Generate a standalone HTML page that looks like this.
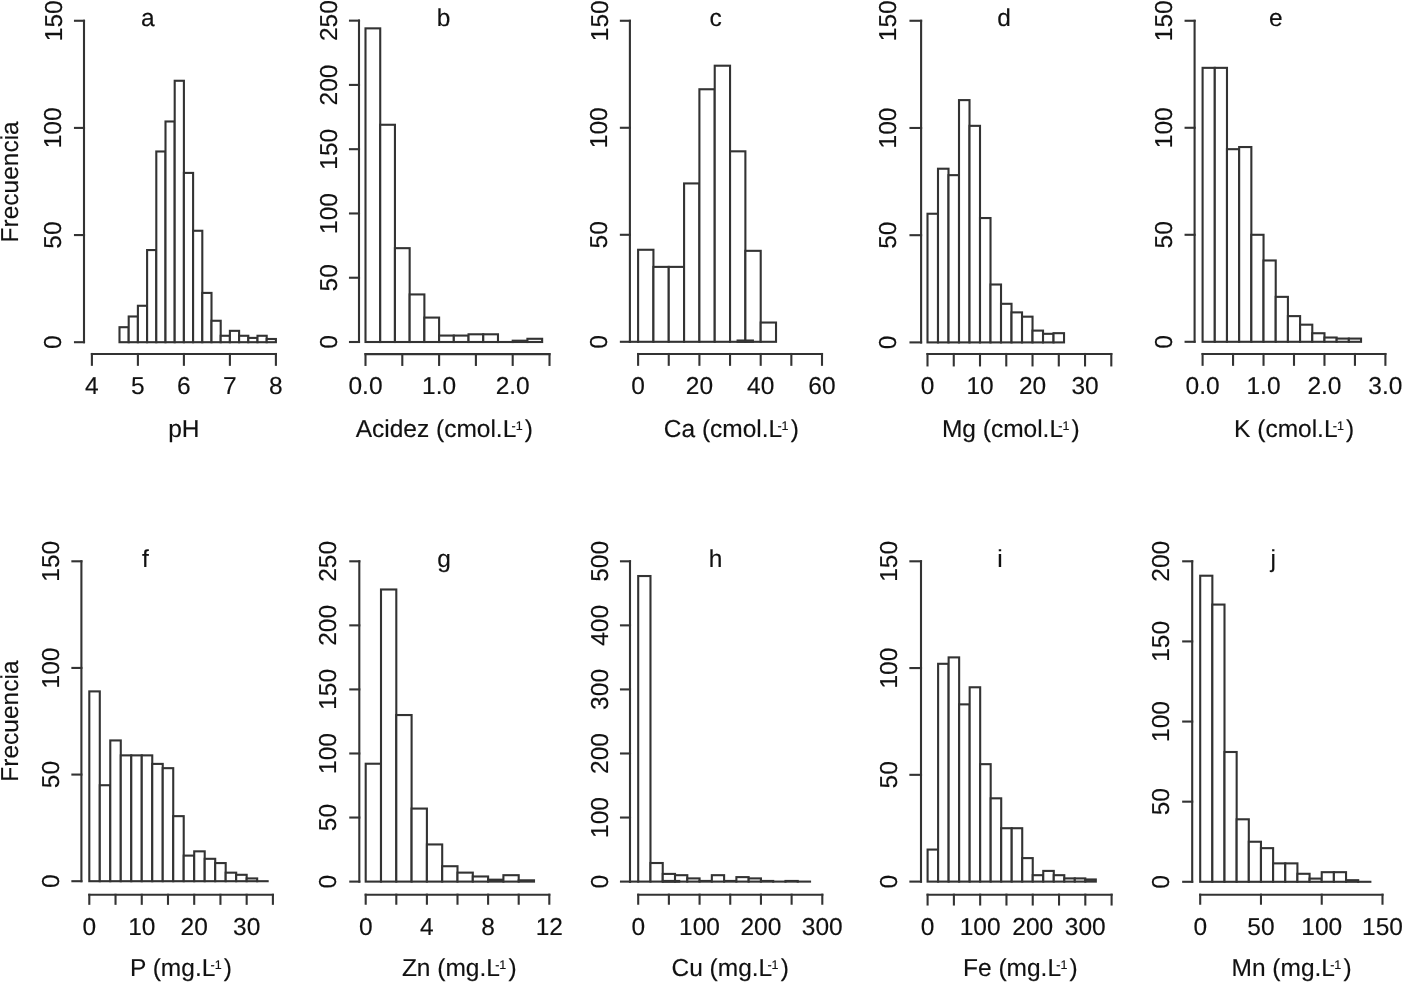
<!DOCTYPE html>
<html><head><meta charset="utf-8"><style>
html,body{margin:0;padding:0;background:#fff;width:1402px;height:982px;overflow:hidden}
svg{display:block;filter:grayscale(1)}
text{font-family:"Liberation Sans",sans-serif;fill:#111;stroke:#111;stroke-width:0.15px;-webkit-font-smoothing:antialiased;text-rendering:geometricPrecision}
line{stroke:#333;stroke-width:2.1;stroke-linecap:square}
.bars rect, rect.bars{fill:#fff;stroke:#333;stroke-width:2.1;stroke-linejoin:miter}
</style></head><body>
<svg width="1402" height="982" viewBox="0 0 1402 982">
<rect width="1402" height="982" fill="#fff"/>
<g class="bars"><rect x="119.5" y="327.2" width="9.2" height="15"/><rect x="128.7" y="316.49" width="9.2" height="25.71"/><rect x="137.9" y="305.77" width="9.2" height="36.43"/><rect x="147.1" y="250.06" width="9.2" height="92.14"/><rect x="156.3" y="151.48" width="9.2" height="190.72"/><rect x="165.5" y="121.48" width="9.2" height="220.72"/><rect x="174.7" y="80.77" width="9.2" height="261.43"/><rect x="183.9" y="172.91" width="9.2" height="169.29"/><rect x="193.1" y="230.77" width="9.2" height="111.43"/><rect x="202.3" y="292.91" width="9.2" height="49.29"/><rect x="211.5" y="320.77" width="9.2" height="21.43"/><rect x="220.7" y="335.77" width="9.2" height="6.43"/><rect x="229.9" y="330.84" width="9.2" height="11.36"/><rect x="239.1" y="335.77" width="9.2" height="6.43"/><rect x="248.3" y="337.91" width="9.2" height="4.29"/><rect x="257.5" y="335.77" width="9.2" height="6.43"/><rect x="266.7" y="338.99" width="9.2" height="3.21"/></g>
<line x1="84" y1="342.2" x2="84" y2="20.77"/>
<line x1="75" y1="342.2" x2="84" y2="342.2"/>
<text x="61.5" y="342.2" font-size="24.5" text-anchor="middle" transform="rotate(-90 61.5 342.2)">0</text>
<line x1="75" y1="235.06" x2="84" y2="235.06"/>
<text x="61.5" y="235.06" font-size="24.5" text-anchor="middle" transform="rotate(-90 61.5 235.06)">50</text>
<line x1="75" y1="127.91" x2="84" y2="127.91"/>
<text x="61.5" y="127.91" font-size="24.5" text-anchor="middle" transform="rotate(-90 61.5 127.91)">100</text>
<line x1="75" y1="20.77" x2="84" y2="20.77"/>
<text x="61.5" y="20.77" font-size="24.5" text-anchor="middle" transform="rotate(-90 61.5 20.77)">150</text>
<line x1="91.9" y1="354" x2="275.9" y2="354"/>
<line x1="91.9" y1="354" x2="91.9" y2="364.8"/>
<text x="91.9" y="393.9" font-size="24.5" text-anchor="middle">4</text>
<line x1="137.9" y1="354" x2="137.9" y2="364.8"/>
<text x="137.9" y="393.9" font-size="24.5" text-anchor="middle">5</text>
<line x1="183.9" y1="354" x2="183.9" y2="364.8"/>
<text x="183.9" y="393.9" font-size="24.5" text-anchor="middle">6</text>
<line x1="229.9" y1="354" x2="229.9" y2="364.8"/>
<text x="229.9" y="393.9" font-size="24.5" text-anchor="middle">7</text>
<line x1="275.9" y1="354" x2="275.9" y2="364.8"/>
<text x="275.9" y="393.9" font-size="24.5" text-anchor="middle">8</text>
<text x="140.97" y="25.6" font-size="24.5">a</text>
<text x="168.14" y="437.2" font-size="24.5">pH</text>
<g class="bars"><rect x="365.5" y="28.36" width="14.72" height="313.64"/><rect x="380.22" y="124.77" width="14.72" height="217.23"/><rect x="394.94" y="248.17" width="14.72" height="93.83"/><rect x="409.66" y="294.44" width="14.72" height="47.56"/><rect x="424.38" y="317.58" width="14.72" height="24.42"/><rect x="439.1" y="335.57" width="14.72" height="6.43"/><rect x="453.82" y="335.57" width="14.72" height="6.43"/><rect x="468.54" y="334.29" width="14.72" height="7.71"/><rect x="483.26" y="334.29" width="14.72" height="7.71"/><line x1="497.98" y1="342" x2="512.7" y2="342"/><rect x="512.7" y="340.71" width="14.72" height="1.29"/><rect x="527.42" y="338.79" width="14.72" height="3.21"/></g>
<line x1="359" y1="342" x2="359" y2="20.65"/>
<line x1="350" y1="342" x2="359" y2="342"/>
<text x="336.6" y="342" font-size="24.5" text-anchor="middle" transform="rotate(-90 336.6 342)">0</text>
<line x1="350" y1="277.73" x2="359" y2="277.73"/>
<text x="336.6" y="277.73" font-size="24.5" text-anchor="middle" transform="rotate(-90 336.6 277.73)">50</text>
<line x1="350" y1="213.46" x2="359" y2="213.46"/>
<text x="336.6" y="213.46" font-size="24.5" text-anchor="middle" transform="rotate(-90 336.6 213.46)">100</text>
<line x1="350" y1="149.19" x2="359" y2="149.19"/>
<text x="336.6" y="149.19" font-size="24.5" text-anchor="middle" transform="rotate(-90 336.6 149.19)">150</text>
<line x1="350" y1="84.92" x2="359" y2="84.92"/>
<text x="336.6" y="84.92" font-size="24.5" text-anchor="middle" transform="rotate(-90 336.6 84.92)">200</text>
<line x1="350" y1="20.65" x2="359" y2="20.65"/>
<text x="336.6" y="20.65" font-size="24.5" text-anchor="middle" transform="rotate(-90 336.6 20.65)">250</text>
<line x1="365.5" y1="354.1" x2="549.5" y2="354.1"/>
<line x1="365.5" y1="354.1" x2="365.5" y2="364.9"/>
<text x="365.5" y="393.9" font-size="24.5" text-anchor="middle">0.0</text>
<line x1="402.3" y1="354.1" x2="402.3" y2="364.9"/>
<line x1="439.1" y1="354.1" x2="439.1" y2="364.9"/>
<text x="439.1" y="393.9" font-size="24.5" text-anchor="middle">1.0</text>
<line x1="475.9" y1="354.1" x2="475.9" y2="364.9"/>
<line x1="512.7" y1="354.1" x2="512.7" y2="364.9"/>
<text x="512.7" y="393.9" font-size="24.5" text-anchor="middle">2.0</text>
<line x1="549.5" y1="354.1" x2="549.5" y2="364.9"/>
<text x="436.71" y="25.6" font-size="24.5">b</text>
<text x="355.65" y="437.2" font-size="24.5">Acidez (cmol.L</text>
<text x="511.51" y="429.7" font-size="12.5">-1</text>
<text x="524.83" y="437.2" font-size="24.5">)</text>
<g class="bars"><rect x="638.1" y="249.77" width="15.33" height="92.03"/><rect x="653.43" y="266.89" width="15.32" height="74.91"/><rect x="668.75" y="266.89" width="15.33" height="74.91"/><rect x="684.08" y="183.43" width="15.32" height="158.37"/><rect x="699.4" y="89.26" width="15.33" height="252.54"/><rect x="714.73" y="65.71" width="15.32" height="276.09"/><rect x="730.05" y="151.32" width="15.33" height="190.48"/><rect x="745.38" y="250.84" width="15.33" height="90.96"/><rect x="760.7" y="322.54" width="15.32" height="19.26"/></g>
<line x1="629.9" y1="341.8" x2="638.1" y2="341.8"/>
<rect class="bars" x="737.6" y="340.52" width="15.3" height="1.28"/>
<line x1="629.9" y1="341.8" x2="629.9" y2="20.77"/>
<line x1="620.9" y1="341.8" x2="629.9" y2="341.8"/>
<text x="607.5" y="341.8" font-size="24.5" text-anchor="middle" transform="rotate(-90 607.5 341.8)">0</text>
<line x1="620.9" y1="234.79" x2="629.9" y2="234.79"/>
<text x="607.5" y="234.79" font-size="24.5" text-anchor="middle" transform="rotate(-90 607.5 234.79)">50</text>
<line x1="620.9" y1="127.78" x2="629.9" y2="127.78"/>
<text x="607.5" y="127.78" font-size="24.5" text-anchor="middle" transform="rotate(-90 607.5 127.78)">100</text>
<line x1="620.9" y1="20.77" x2="629.9" y2="20.77"/>
<text x="607.5" y="20.77" font-size="24.5" text-anchor="middle" transform="rotate(-90 607.5 20.77)">150</text>
<line x1="638.1" y1="354" x2="822" y2="354"/>
<line x1="638.1" y1="354" x2="638.1" y2="364.8"/>
<text x="638.1" y="393.9" font-size="24.5" text-anchor="middle">0</text>
<line x1="668.75" y1="354" x2="668.75" y2="364.8"/>
<line x1="699.4" y1="354" x2="699.4" y2="364.8"/>
<text x="699.4" y="393.9" font-size="24.5" text-anchor="middle">20</text>
<line x1="730.05" y1="354" x2="730.05" y2="364.8"/>
<line x1="760.7" y1="354" x2="760.7" y2="364.8"/>
<text x="760.7" y="393.9" font-size="24.5" text-anchor="middle">40</text>
<line x1="791.35" y1="354" x2="791.35" y2="364.8"/>
<line x1="822" y1="354" x2="822" y2="364.8"/>
<text x="822" y="393.9" font-size="24.5" text-anchor="middle">60</text>
<text x="709.38" y="25.6" font-size="24.5">c</text>
<text x="663.75" y="437.2" font-size="24.5">Ca (cmol.L</text>
<text x="777.4" y="429.7" font-size="12.5">-1</text>
<text x="790.71" y="437.2" font-size="24.5">)</text>
<g class="bars"><rect x="927.5" y="213.75" width="10.5" height="128.65"/><rect x="938" y="168.72" width="10.5" height="173.68"/><rect x="948.51" y="175.15" width="10.5" height="167.25"/><rect x="959.01" y="100.11" width="10.5" height="242.29"/><rect x="969.51" y="125.84" width="10.5" height="216.56"/><rect x="980.01" y="218.04" width="10.5" height="124.36"/><rect x="990.52" y="284.51" width="10.5" height="57.89"/><rect x="1001.02" y="303.8" width="10.5" height="38.6"/><rect x="1011.52" y="312.38" width="10.5" height="30.02"/><rect x="1022.03" y="316.67" width="10.5" height="25.73"/><rect x="1032.53" y="330.61" width="10.5" height="11.79"/><rect x="1043.03" y="333.82" width="10.5" height="8.58"/><rect x="1053.53" y="333.18" width="10.5" height="9.22"/></g>
<line x1="921.1" y1="342.4" x2="921.1" y2="20.77"/>
<line x1="910.5" y1="342.4" x2="921.1" y2="342.4"/>
<text x="896" y="342.4" font-size="24.5" text-anchor="middle" transform="rotate(-90 896 342.4)">0</text>
<line x1="910.5" y1="235.19" x2="921.1" y2="235.19"/>
<text x="896" y="235.19" font-size="24.5" text-anchor="middle" transform="rotate(-90 896 235.19)">50</text>
<line x1="910.5" y1="127.98" x2="921.1" y2="127.98"/>
<text x="896" y="127.98" font-size="24.5" text-anchor="middle" transform="rotate(-90 896 127.98)">100</text>
<line x1="910.5" y1="20.77" x2="921.1" y2="20.77"/>
<text x="896" y="20.77" font-size="24.5" text-anchor="middle" transform="rotate(-90 896 20.77)">150</text>
<line x1="927.5" y1="354" x2="1111.3" y2="354"/>
<line x1="927.5" y1="354" x2="927.5" y2="365.4"/>
<text x="927.5" y="393.9" font-size="24.5" text-anchor="middle">0</text>
<line x1="953.76" y1="354" x2="953.76" y2="365.4"/>
<line x1="980.01" y1="354" x2="980.01" y2="365.4"/>
<text x="980.01" y="393.9" font-size="24.5" text-anchor="middle">10</text>
<line x1="1006.27" y1="354" x2="1006.27" y2="365.4"/>
<line x1="1032.53" y1="354" x2="1032.53" y2="365.4"/>
<text x="1032.53" y="393.9" font-size="24.5" text-anchor="middle">20</text>
<line x1="1058.79" y1="354" x2="1058.79" y2="365.4"/>
<line x1="1085.04" y1="354" x2="1085.04" y2="365.4"/>
<text x="1085.04" y="393.9" font-size="24.5" text-anchor="middle">30</text>
<line x1="1111.3" y1="354" x2="1111.3" y2="365.4"/>
<text x="997.36" y="25.6" font-size="24.5">d</text>
<text x="941.89" y="437.2" font-size="24.5">Mg (cmol.L</text>
<text x="1058.25" y="429.7" font-size="12.5">-1</text>
<text x="1071.57" y="437.2" font-size="24.5">)</text>
<g class="bars"><rect x="1202.6" y="67.85" width="12.19" height="273.95"/><rect x="1214.79" y="67.85" width="12.19" height="273.95"/><rect x="1226.97" y="149.18" width="12.19" height="192.62"/><rect x="1239.16" y="147.04" width="12.19" height="194.76"/><rect x="1251.35" y="234.79" width="12.19" height="107.01"/><rect x="1263.53" y="260.47" width="12.19" height="81.33"/><rect x="1275.72" y="296.86" width="12.19" height="44.94"/><rect x="1287.91" y="316.12" width="12.19" height="25.68"/><rect x="1300.09" y="324.68" width="12.19" height="17.12"/><rect x="1312.28" y="333.24" width="12.19" height="8.56"/><rect x="1324.47" y="337.52" width="12.19" height="4.28"/><rect x="1336.65" y="338.59" width="12.19" height="3.21"/><rect x="1348.84" y="338.59" width="12.19" height="3.21"/></g>
<line x1="1194.6" y1="341.8" x2="1194.6" y2="20.77"/>
<line x1="1185.6" y1="341.8" x2="1194.6" y2="341.8"/>
<text x="1172.1" y="341.8" font-size="24.5" text-anchor="middle" transform="rotate(-90 1172.1 341.8)">0</text>
<line x1="1185.6" y1="234.79" x2="1194.6" y2="234.79"/>
<text x="1172.1" y="234.79" font-size="24.5" text-anchor="middle" transform="rotate(-90 1172.1 234.79)">50</text>
<line x1="1185.6" y1="127.78" x2="1194.6" y2="127.78"/>
<text x="1172.1" y="127.78" font-size="24.5" text-anchor="middle" transform="rotate(-90 1172.1 127.78)">100</text>
<line x1="1185.6" y1="20.77" x2="1194.6" y2="20.77"/>
<text x="1172.1" y="20.77" font-size="24.5" text-anchor="middle" transform="rotate(-90 1172.1 20.77)">150</text>
<line x1="1202.6" y1="354" x2="1385.4" y2="354"/>
<line x1="1202.6" y1="354" x2="1202.6" y2="364.8"/>
<text x="1202.6" y="393.9" font-size="24.5" text-anchor="middle">0.0</text>
<line x1="1233.07" y1="354" x2="1233.07" y2="364.8"/>
<line x1="1263.53" y1="354" x2="1263.53" y2="364.8"/>
<text x="1263.53" y="393.9" font-size="24.5" text-anchor="middle">1.0</text>
<line x1="1294" y1="354" x2="1294" y2="364.8"/>
<line x1="1324.47" y1="354" x2="1324.47" y2="364.8"/>
<text x="1324.47" y="393.9" font-size="24.5" text-anchor="middle">2.0</text>
<line x1="1354.93" y1="354" x2="1354.93" y2="364.8"/>
<line x1="1385.4" y1="354" x2="1385.4" y2="364.8"/>
<text x="1385.4" y="393.9" font-size="24.5" text-anchor="middle">3.0</text>
<text x="1268.91" y="25.6" font-size="24.5">e</text>
<text x="1234.09" y="437.2" font-size="24.5">K (cmol.L</text>
<text x="1332.76" y="429.7" font-size="12.5">-1</text>
<text x="1346.07" y="437.2" font-size="24.5">)</text>
<g class="bars"><rect x="89.3" y="691.39" width="10.49" height="189.81"/><rect x="99.79" y="785.23" width="10.49" height="95.97"/><rect x="110.28" y="740.44" width="10.49" height="140.76"/><rect x="120.77" y="755.37" width="10.49" height="125.83"/><rect x="131.27" y="755.37" width="10.49" height="125.83"/><rect x="141.76" y="755.37" width="10.49" height="125.83"/><rect x="152.25" y="763.9" width="10.49" height="117.3"/><rect x="162.74" y="768.17" width="10.49" height="113.03"/><rect x="173.23" y="816.15" width="10.49" height="65.05"/><rect x="183.72" y="855.61" width="10.49" height="25.59"/><rect x="194.21" y="851.34" width="10.49" height="29.86"/><rect x="204.71" y="858.81" width="10.49" height="22.39"/><rect x="215.2" y="863.07" width="10.49" height="18.13"/><rect x="225.69" y="872.67" width="10.49" height="8.53"/><rect x="236.18" y="874.8" width="10.49" height="6.4"/><rect x="246.67" y="878.43" width="10.49" height="2.77"/><line x1="257.16" y1="881.2" x2="267.65" y2="881.2"/></g>
<line x1="81.4" y1="881.2" x2="81.4" y2="561.3"/>
<line x1="72.4" y1="881.2" x2="81.4" y2="881.2"/>
<text x="58.7" y="881.2" font-size="24.5" text-anchor="middle" transform="rotate(-90 58.7 881.2)">0</text>
<line x1="72.4" y1="774.57" x2="81.4" y2="774.57"/>
<text x="58.7" y="774.57" font-size="24.5" text-anchor="middle" transform="rotate(-90 58.7 774.57)">50</text>
<line x1="72.4" y1="667.93" x2="81.4" y2="667.93"/>
<text x="58.7" y="667.93" font-size="24.5" text-anchor="middle" transform="rotate(-90 58.7 667.93)">100</text>
<line x1="72.4" y1="561.3" x2="81.4" y2="561.3"/>
<text x="58.7" y="561.3" font-size="24.5" text-anchor="middle" transform="rotate(-90 58.7 561.3)">150</text>
<line x1="89.3" y1="894.8" x2="272.9" y2="894.8"/>
<line x1="89.3" y1="894.8" x2="89.3" y2="903.8"/>
<text x="89.3" y="934.5" font-size="24.5" text-anchor="middle">0</text>
<line x1="115.53" y1="894.8" x2="115.53" y2="903.8"/>
<line x1="141.76" y1="894.8" x2="141.76" y2="903.8"/>
<text x="141.76" y="934.5" font-size="24.5" text-anchor="middle">10</text>
<line x1="167.99" y1="894.8" x2="167.99" y2="903.8"/>
<line x1="194.21" y1="894.8" x2="194.21" y2="903.8"/>
<text x="194.21" y="934.5" font-size="24.5" text-anchor="middle">20</text>
<line x1="220.44" y1="894.8" x2="220.44" y2="903.8"/>
<line x1="246.67" y1="894.8" x2="246.67" y2="903.8"/>
<text x="246.67" y="934.5" font-size="24.5" text-anchor="middle">30</text>
<line x1="272.9" y1="894.8" x2="272.9" y2="903.8"/>
<text x="142.01" y="567.2" font-size="24.5">f</text>
<text x="129.99" y="976" font-size="24.5">P (mg.L</text>
<text x="210.52" y="968.5" font-size="12.5">-1</text>
<text x="223.84" y="976" font-size="24.5">)</text>
<g class="bars"><rect x="365.7" y="763.73" width="15.3" height="117.87"/><rect x="381" y="589.49" width="15.3" height="292.11"/><rect x="396.3" y="715.04" width="15.3" height="166.56"/><rect x="411.6" y="808.57" width="15.3" height="73.03"/><rect x="426.9" y="844.45" width="15.3" height="37.15"/><rect x="442.2" y="866.23" width="15.3" height="15.37"/><rect x="457.5" y="872.63" width="15.3" height="8.97"/><rect x="472.8" y="876.48" width="15.3" height="5.12"/><rect x="488.1" y="879.68" width="15.3" height="1.92"/><rect x="503.4" y="875.19" width="15.3" height="6.41"/><rect x="518.7" y="880.32" width="15.3" height="1.28"/></g>
<line x1="359.3" y1="881.6" x2="359.3" y2="561.3"/>
<line x1="350.3" y1="881.6" x2="359.3" y2="881.6"/>
<text x="336" y="881.6" font-size="24.5" text-anchor="middle" transform="rotate(-90 336 881.6)">0</text>
<line x1="350.3" y1="817.54" x2="359.3" y2="817.54"/>
<text x="336" y="817.54" font-size="24.5" text-anchor="middle" transform="rotate(-90 336 817.54)">50</text>
<line x1="350.3" y1="753.48" x2="359.3" y2="753.48"/>
<text x="336" y="753.48" font-size="24.5" text-anchor="middle" transform="rotate(-90 336 753.48)">100</text>
<line x1="350.3" y1="689.42" x2="359.3" y2="689.42"/>
<text x="336" y="689.42" font-size="24.5" text-anchor="middle" transform="rotate(-90 336 689.42)">150</text>
<line x1="350.3" y1="625.36" x2="359.3" y2="625.36"/>
<text x="336" y="625.36" font-size="24.5" text-anchor="middle" transform="rotate(-90 336 625.36)">200</text>
<line x1="350.3" y1="561.3" x2="359.3" y2="561.3"/>
<text x="336" y="561.3" font-size="24.5" text-anchor="middle" transform="rotate(-90 336 561.3)">250</text>
<line x1="365.7" y1="894.7" x2="549.3" y2="894.7"/>
<line x1="365.7" y1="894.7" x2="365.7" y2="903.7"/>
<text x="365.7" y="934.5" font-size="24.5" text-anchor="middle">0</text>
<line x1="396.3" y1="894.7" x2="396.3" y2="903.7"/>
<line x1="426.9" y1="894.7" x2="426.9" y2="903.7"/>
<text x="426.9" y="934.5" font-size="24.5" text-anchor="middle">4</text>
<line x1="457.5" y1="894.7" x2="457.5" y2="903.7"/>
<line x1="488.1" y1="894.7" x2="488.1" y2="903.7"/>
<text x="488.1" y="934.5" font-size="24.5" text-anchor="middle">8</text>
<line x1="518.7" y1="894.7" x2="518.7" y2="903.7"/>
<line x1="549.3" y1="894.7" x2="549.3" y2="903.7"/>
<text x="549.3" y="934.5" font-size="24.5" text-anchor="middle">12</text>
<text x="437.26" y="567.2" font-size="24.5">g</text>
<text x="401.92" y="976" font-size="24.5">Zn (mg.L</text>
<text x="495.14" y="968.5" font-size="12.5">-1</text>
<text x="508.46" y="976" font-size="24.5">)</text>
<g class="bars"><rect x="638.2" y="576.03" width="12.27" height="305.57"/><rect x="650.47" y="863.02" width="12.27" height="18.58"/><rect x="662.75" y="873.91" width="12.27" height="7.69"/><rect x="675.02" y="875.19" width="12.27" height="6.41"/><rect x="687.29" y="878.4" width="12.27" height="3.2"/><rect x="699.57" y="880.96" width="12.27" height="0.64"/><rect x="711.84" y="875.19" width="12.27" height="6.41"/><rect x="724.11" y="880.96" width="12.27" height="0.64"/><rect x="736.39" y="877.12" width="12.27" height="4.48"/><rect x="748.66" y="878.4" width="12.27" height="3.2"/><rect x="760.93" y="880.96" width="12.27" height="0.64"/><line x1="773.21" y1="881.6" x2="785.48" y2="881.6"/><rect x="785.48" y="880.96" width="12.27" height="0.64"/><line x1="797.75" y1="881.6" x2="810.03" y2="881.6"/></g>
<line x1="630" y1="881.6" x2="638.2" y2="881.6"/>
<rect class="bars" x="662.9" y="880.96" width="16.3" height="0.64"/>
<line x1="630" y1="881.6" x2="630" y2="561.3"/>
<line x1="621" y1="881.6" x2="630" y2="881.6"/>
<text x="607.8" y="881.6" font-size="24.5" text-anchor="middle" transform="rotate(-90 607.8 881.6)">0</text>
<line x1="621" y1="817.54" x2="630" y2="817.54"/>
<text x="607.8" y="817.54" font-size="24.5" text-anchor="middle" transform="rotate(-90 607.8 817.54)">100</text>
<line x1="621" y1="753.48" x2="630" y2="753.48"/>
<text x="607.8" y="753.48" font-size="24.5" text-anchor="middle" transform="rotate(-90 607.8 753.48)">200</text>
<line x1="621" y1="689.42" x2="630" y2="689.42"/>
<text x="607.8" y="689.42" font-size="24.5" text-anchor="middle" transform="rotate(-90 607.8 689.42)">300</text>
<line x1="621" y1="625.36" x2="630" y2="625.36"/>
<text x="607.8" y="625.36" font-size="24.5" text-anchor="middle" transform="rotate(-90 607.8 625.36)">400</text>
<line x1="621" y1="561.3" x2="630" y2="561.3"/>
<text x="607.8" y="561.3" font-size="24.5" text-anchor="middle" transform="rotate(-90 607.8 561.3)">500</text>
<line x1="638.2" y1="894.7" x2="822.3" y2="894.7"/>
<line x1="638.2" y1="894.7" x2="638.2" y2="903.7"/>
<text x="638.2" y="934.5" font-size="24.5" text-anchor="middle">0</text>
<line x1="668.88" y1="894.7" x2="668.88" y2="903.7"/>
<line x1="699.57" y1="894.7" x2="699.57" y2="903.7"/>
<text x="699.57" y="934.5" font-size="24.5" text-anchor="middle">100</text>
<line x1="730.25" y1="894.7" x2="730.25" y2="903.7"/>
<line x1="760.93" y1="894.7" x2="760.93" y2="903.7"/>
<text x="760.93" y="934.5" font-size="24.5" text-anchor="middle">200</text>
<line x1="791.62" y1="894.7" x2="791.62" y2="903.7"/>
<line x1="822.3" y1="894.7" x2="822.3" y2="903.7"/>
<text x="822.3" y="934.5" font-size="24.5" text-anchor="middle">300</text>
<text x="708.69" y="567.2" font-size="24.5">h</text>
<text x="671.45" y="976" font-size="24.5">Cu (mg.L</text>
<text x="767.4" y="968.5" font-size="12.5">-1</text>
<text x="780.72" y="976" font-size="24.5">)</text>
<g class="bars"><rect x="927.6" y="849.57" width="10.51" height="32.03"/><rect x="938.11" y="663.8" width="10.51" height="217.8"/><rect x="948.63" y="657.39" width="10.51" height="224.21"/><rect x="959.14" y="704.37" width="10.51" height="177.23"/><rect x="969.66" y="687.28" width="10.51" height="194.32"/><rect x="980.17" y="764.16" width="10.51" height="117.44"/><rect x="990.69" y="798.32" width="10.51" height="83.28"/><rect x="1001.2" y="828.22" width="10.51" height="53.38"/><rect x="1011.71" y="828.22" width="10.51" height="53.38"/><rect x="1022.23" y="858.11" width="10.51" height="23.49"/><rect x="1032.74" y="875.19" width="10.51" height="6.41"/><rect x="1043.26" y="870.92" width="10.51" height="10.68"/><rect x="1053.77" y="875.19" width="10.51" height="6.41"/><rect x="1064.29" y="878.4" width="10.51" height="3.2"/><rect x="1074.8" y="878.4" width="10.51" height="3.2"/><rect x="1085.31" y="879.46" width="10.51" height="2.14"/></g>
<line x1="921" y1="881.6" x2="921" y2="561.3"/>
<line x1="910.4" y1="881.6" x2="921" y2="881.6"/>
<text x="896.8" y="881.6" font-size="24.5" text-anchor="middle" transform="rotate(-90 896.8 881.6)">0</text>
<line x1="910.4" y1="774.83" x2="921" y2="774.83"/>
<text x="896.8" y="774.83" font-size="24.5" text-anchor="middle" transform="rotate(-90 896.8 774.83)">50</text>
<line x1="910.4" y1="668.07" x2="921" y2="668.07"/>
<text x="896.8" y="668.07" font-size="24.5" text-anchor="middle" transform="rotate(-90 896.8 668.07)">100</text>
<line x1="910.4" y1="561.3" x2="921" y2="561.3"/>
<text x="896.8" y="561.3" font-size="24.5" text-anchor="middle" transform="rotate(-90 896.8 561.3)">150</text>
<line x1="927.6" y1="894.7" x2="1111.6" y2="894.7"/>
<line x1="927.6" y1="894.7" x2="927.6" y2="904.5"/>
<text x="927.6" y="934.5" font-size="24.5" text-anchor="middle">0</text>
<line x1="953.89" y1="894.7" x2="953.89" y2="904.5"/>
<line x1="980.17" y1="894.7" x2="980.17" y2="904.5"/>
<text x="980.17" y="934.5" font-size="24.5" text-anchor="middle">100</text>
<line x1="1006.46" y1="894.7" x2="1006.46" y2="904.5"/>
<line x1="1032.74" y1="894.7" x2="1032.74" y2="904.5"/>
<text x="1032.74" y="934.5" font-size="24.5" text-anchor="middle">200</text>
<line x1="1059.03" y1="894.7" x2="1059.03" y2="904.5"/>
<line x1="1085.31" y1="894.7" x2="1085.31" y2="904.5"/>
<text x="1085.31" y="934.5" font-size="24.5" text-anchor="middle">300</text>
<line x1="1111.6" y1="894.7" x2="1111.6" y2="904.5"/>
<text x="997.28" y="567.2" font-size="24.5">i</text>
<text x="962.99" y="976" font-size="24.5">Fe (mg.L</text>
<text x="1056.22" y="968.5" font-size="12.5">-1</text>
<text x="1069.53" y="976" font-size="24.5">)</text>
<g class="bars"><rect x="1200.2" y="575.72" width="12.15" height="306.08"/><rect x="1212.35" y="604.57" width="12.15" height="277.23"/><rect x="1224.51" y="752" width="12.15" height="129.8"/><rect x="1236.66" y="819.3" width="12.15" height="62.5"/><rect x="1248.81" y="841.74" width="12.15" height="40.06"/><rect x="1260.97" y="848.15" width="12.15" height="33.65"/><rect x="1273.12" y="863.37" width="12.15" height="18.43"/><rect x="1285.27" y="863.37" width="12.15" height="18.43"/><rect x="1297.43" y="873.79" width="12.15" height="8.01"/><rect x="1309.58" y="878.59" width="12.15" height="3.21"/><rect x="1321.73" y="872.18" width="12.15" height="9.62"/><rect x="1333.89" y="872.18" width="12.15" height="9.62"/><rect x="1346.04" y="880.2" width="12.15" height="1.6"/><line x1="1358.19" y1="881.8" x2="1370.35" y2="881.8"/></g>
<line x1="1192.2" y1="881.8" x2="1192.2" y2="561.3"/>
<line x1="1183.2" y1="881.8" x2="1192.2" y2="881.8"/>
<text x="1168.7" y="881.8" font-size="24.5" text-anchor="middle" transform="rotate(-90 1168.7 881.8)">0</text>
<line x1="1183.2" y1="801.67" x2="1192.2" y2="801.67"/>
<text x="1168.7" y="801.67" font-size="24.5" text-anchor="middle" transform="rotate(-90 1168.7 801.67)">50</text>
<line x1="1183.2" y1="721.55" x2="1192.2" y2="721.55"/>
<text x="1168.7" y="721.55" font-size="24.5" text-anchor="middle" transform="rotate(-90 1168.7 721.55)">100</text>
<line x1="1183.2" y1="641.42" x2="1192.2" y2="641.42"/>
<text x="1168.7" y="641.42" font-size="24.5" text-anchor="middle" transform="rotate(-90 1168.7 641.42)">150</text>
<line x1="1183.2" y1="561.3" x2="1192.2" y2="561.3"/>
<text x="1168.7" y="561.3" font-size="24.5" text-anchor="middle" transform="rotate(-90 1168.7 561.3)">200</text>
<line x1="1200.2" y1="894.7" x2="1382.5" y2="894.7"/>
<line x1="1200.2" y1="894.7" x2="1200.2" y2="903.7"/>
<text x="1200.2" y="934.5" font-size="24.5" text-anchor="middle">0</text>
<line x1="1260.97" y1="894.7" x2="1260.97" y2="903.7"/>
<text x="1260.97" y="934.5" font-size="24.5" text-anchor="middle">50</text>
<line x1="1321.73" y1="894.7" x2="1321.73" y2="903.7"/>
<text x="1321.73" y="934.5" font-size="24.5" text-anchor="middle">100</text>
<line x1="1382.5" y1="894.7" x2="1382.5" y2="903.7"/>
<text x="1382.5" y="934.5" font-size="24.5" text-anchor="middle">150</text>
<text x="1270.4" y="567.2" font-size="24.5">j</text>
<text x="1231.49" y="976" font-size="24.5">Mn (mg.L</text>
<text x="1330.16" y="968.5" font-size="12.5">-1</text>
<text x="1343.47" y="976" font-size="24.5">)</text>
<text x="17.7" y="181.9" font-size="24.5" text-anchor="middle" transform="rotate(-90 17.7 181.9)">Frecuencia</text>
<text x="17.7" y="721.1" font-size="24.5" text-anchor="middle" transform="rotate(-90 17.7 721.1)">Frecuencia</text>
</svg></body></html>
